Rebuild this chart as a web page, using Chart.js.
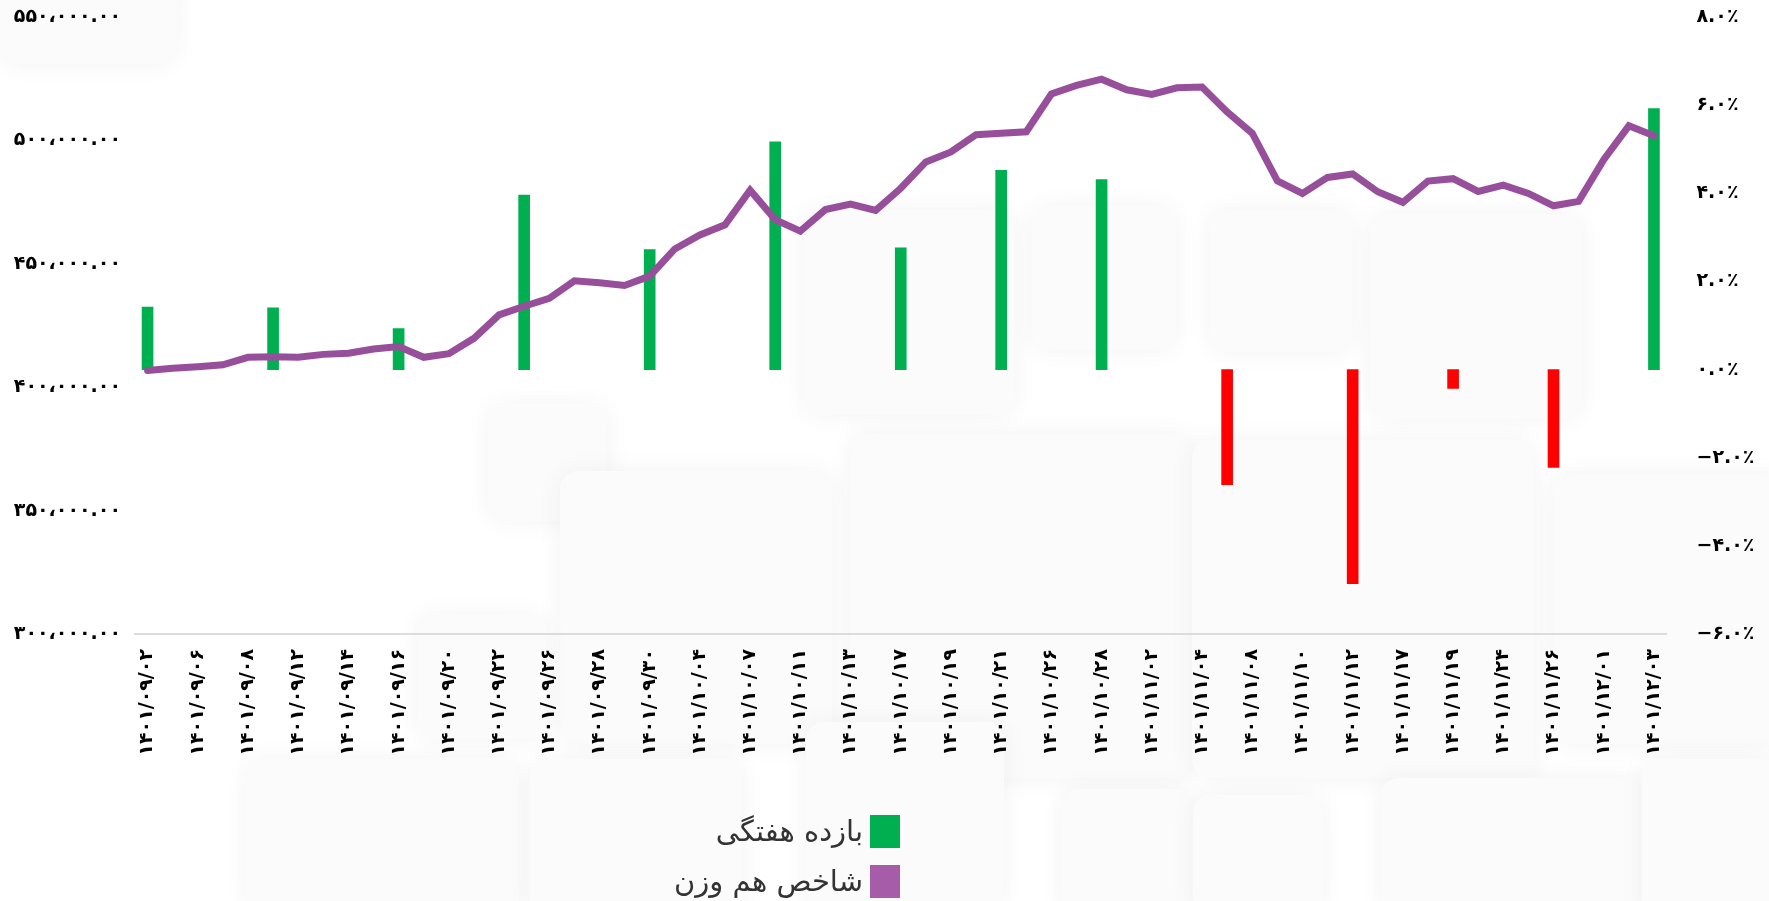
<!DOCTYPE html>
<html lang="fa">
<head>
<meta charset="utf-8">
<title>شاخص هم وزن</title>
<script src="https://cdn.jsdelivr.net/npm/chart.js@4.4.0/dist/chart.umd.min.js"></script>
<style>
  html, body { margin: 0; padding: 0; background: #fff; width: 1769px; height: 901px; overflow: hidden; }
  .tile { position: absolute; background: #fbfbfb; border-radius: 18px; box-shadow: 0 0 26px rgba(0,0,0,0.05); }
  #chart { position: absolute; left: 0; top: 0; }
  #legend { position: absolute; right: 869px; top: 806px; font-family: "DejaVu Sans"; font-size: 29px; color: #333; direction: rtl; }
  .item { display: flex; align-items: center; height: 50px; }
  .box { width: 30px; height: 33px; margin-left: 7px; }
</style>
</head>
<body>
<!-- faint background cards -->
<div class="tile" style="left:0;top:-20px;width:177px;height:84px"></div>
<div class="tile" style="left:488px;top:404px;width:119px;height:117px"></div>
<div class="tile" style="left:560px;top:471px;width:272px;height:273px"></div>
<div class="tile" style="left:803px;top:209px;width:212px;height:206px"></div>
<div class="tile" style="left:1032px;top:206px;width:144px;height:144px"></div>
<div class="tile" style="left:1209px;top:210px;width:143px;height:142px"></div>
<div class="tile" style="left:1370px;top:214px;width:212px;height:205px"></div>
<div class="tile" style="left:850px;top:434px;width:342px;height:344px"></div>
<div class="tile" style="left:1192px;top:440px;width:342px;height:338px"></div>
<div class="tile" style="left:1553px;top:474px;width:230px;height:270px"></div>
<div class="tile" style="left:417px;top:615px;width:129px;height:124px"></div>
<div class="tile" style="left:246px;top:759px;width:273px;height:160px"></div>
<div class="tile" style="left:530px;top:759px;width:212px;height:160px"></div>
<div class="tile" style="left:806px;top:722px;width:198px;height:190px"></div>
<div class="tile" style="left:1061px;top:789px;width:132px;height:130px"></div>
<div class="tile" style="left:1193px;top:795px;width:131px;height:120px"></div>
<div class="tile" style="left:1381px;top:778px;width:261px;height:140px"></div>
<div class="tile" style="left:1642px;top:759px;width:140px;height:160px"></div>

<canvas id="chart" width="1769" height="901"></canvas>
<div id="legend"></div>

<script>
// تاریخ روزهای معاملاتی
var dates = [
  '1401/09/02', '1401/09/05', '1401/09/06', '1401/09/07', '1401/09/08', '1401/09/09',
  '1401/09/12', '1401/09/13', '1401/09/14', '1401/09/15', '1401/09/16', '1401/09/19',
  '1401/09/20', '1401/09/21', '1401/09/22', '1401/09/23', '1401/09/26', '1401/09/27',
  '1401/09/28', '1401/09/29', '1401/09/30', '1401/10/03', '1401/10/04', '1401/10/05',
  '1401/10/07', '1401/10/10', '1401/10/11', '1401/10/12', '1401/10/13', '1401/10/14',
  '1401/10/17', '1401/10/18', '1401/10/19', '1401/10/20', '1401/10/21', '1401/10/24',
  '1401/10/26', '1401/10/27', '1401/10/28', '1401/11/01', '1401/11/02', '1401/11/03',
  '1401/11/04', '1401/11/05', '1401/11/08', '1401/11/09', '1401/11/10', '1401/11/11',
  '1401/11/12', '1401/11/15', '1401/11/17', '1401/11/18', '1401/11/19', '1401/11/23',
  '1401/11/24', '1401/11/25', '1401/11/26', '1401/11/30', '1401/12/01', '1401/12/02',
  '1401/12/03'
];

// شاخص هم وزن
var indexValues = [
  406800, 407700, 408300, 409100, 412100, 412300, 412100, 413300, 413800, 415500,
  416500, 412100, 413600, 419800, 429300, 432800, 436000, 443100, 442300, 441200,
  445000, 456000, 461700, 465800, 479800, 467900, 463200, 472000, 474200, 471600,
  480600, 491300, 495300, 502300, 502900, 503500, 518800, 522300, 524800, 520500,
  518600, 521300, 521600, 511500, 502900, 483600, 478500, 485000, 486400, 479200,
  474900, 483500, 484500, 479300, 481900, 478500, 473500, 475300, 492200, 505900,
  501900
];

// بازده هفتگی (درصد)
var weeklyDates = [
  '1401/09/02', '1401/09/09', '1401/09/16', '1401/09/23', '1401/09/30', '1401/10/10', '1401/10/17',
  '1401/10/21', '1401/10/28', '1401/11/05', '1401/11/12', '1401/11/19', '1401/11/26', '1401/12/03'
];
var weeklyReturns = [1.42, 1.40, 0.93, 3.96, 2.72, 5.17, 2.76, 4.52, 4.31, -2.61, -4.86, -0.43, -2.22, 5.92];

var faDigits = '۰۱۲۳۴۵۶۷۸۹';
function toFa(s) {
  return String(s).replace(/\d/g, function (d) { return faDigits[d]; });
}

var weeklyData = dates.map(function (d) {
  var k = weeklyDates.indexOf(d);
  return k < 0 ? null : weeklyReturns[k];
});
var weeklyColors = weeklyData.map(function (v) { return v !== null && v < 0 ? '#ff0000' : '#00b050'; });

var tickFont = { family: 'DejaVu Sans', size: 19, weight: 'bold' };

// remove the automatic label padding so the plot starts at the top tick
function noPad(s) { s.paddingTop = 0; s.paddingBottom = 0; }

var datasets = [{
  type: 'bar',
  label: 'بازده هفتگی',
  data: weeklyData,
  backgroundColor: weeklyColors,
  legendColor: '#00b050',
  barThickness: 11,
  yAxisID: 'y1',
  order: 1
}, {
  type: 'line',
  label: 'شاخص هم وزن',
  data: indexValues,
  borderColor: '#974f9b',
  backgroundColor: '#a65ca8',
  legendColor: '#a65ca8',
  borderWidth: 7,
  borderCapStyle: 'round',
  pointRadius: 0,
  tension: 0,
  yAxisID: 'y',
  order: 0
}];

var chart = new Chart(document.getElementById('chart').getContext('2d'), {
  type: 'bar',
  data: { labels: dates.map(toFa), datasets: datasets },
  options: {
    responsive: false,
    animation: false,
    devicePixelRatio: 1,
    layout: { padding: { top: 17, left: 0, right: 0, bottom: 0 } },
    plugins: { legend: { display: false }, tooltip: { enabled: false } },
    scales: {
      x: {
        grid: { display: false, drawTicks: false },
        border: { display: true, color: '#dcdcdc', width: 2 },
        ticks: {
          autoSkip: false, maxRotation: 90, minRotation: 90, padding: 15,
          color: '#000', font: tickFont,
          callback: function (v, i) { return i % 2 === 0 ? this.getLabelForValue(v) : ''; }
        },
        afterFit: function (s) { s.height = 267; }
      },
      y: {
        position: 'left', min: 300000, max: 550000,
        grid: { display: false, drawTicks: false },
        border: { display: false },
        ticks: {
          stepSize: 50000, padding: 14, color: '#000', font: tickFont,
          callback: function (v) {
            return toFa(v.toLocaleString('en-US', { minimumFractionDigits: 2, maximumFractionDigits: 2 })).replace(/,/g, '،');
          }
        },
        afterFit: function (s) { s.width = 135; noPad(s); }
      },
      y1: {
        position: 'right', min: -6, max: 8,
        grid: { display: false, drawTicks: false },
        border: { display: false },
        ticks: {
          stepSize: 2, padding: 30, color: '#000', font: tickFont,
          callback: function (v) {
            return (v < 0 ? '−' : '') + toFa(Math.abs(v).toFixed(1)) + '٪';
          }
        },
        afterFit: function (s) { s.width = 102.5; noPad(s); }
      }
    }
  }
});

// راهنمای نمودار
var legendEl = document.getElementById('legend');
chart.data.datasets.forEach(function (ds) {
  var item = document.createElement('div');
  item.className = 'item';
  var box = document.createElement('span');
  box.className = 'box';
  box.style.background = ds.legendColor;
  var txt = document.createElement('span');
  txt.textContent = ds.label;
  item.appendChild(box);
  item.appendChild(txt);
  legendEl.appendChild(item);
});
</script>
</body>
</html>
